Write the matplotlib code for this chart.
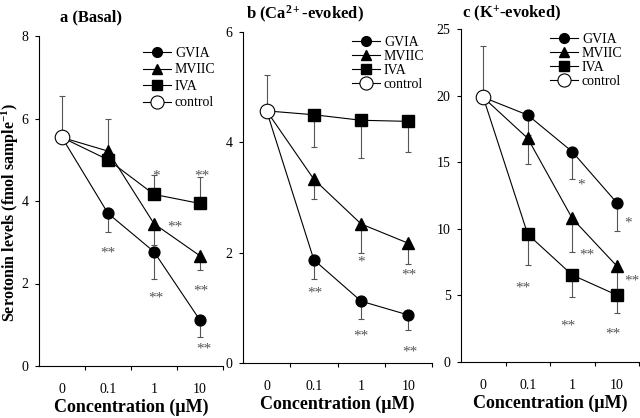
import matplotlib
matplotlib.use("Agg")
import matplotlib.pyplot as plt
import numpy as np

plt.rcParams['font.family'] = ['Liberation Serif', 'DejaVu Serif']
plt.rcParams['mathtext.fontset'] = 'custom'
plt.rcParams['mathtext.rm'] = 'Liberation Serif'
plt.rcParams['mathtext.bf'] = 'Liberation Serif:bold'
plt.rcParams['mathtext.it'] = 'Liberation Serif:italic'

conc_labels = ['0', '0.1', '1', '10']
series_names = ['GVIA', 'MVIIC', 'IVA']

# Panel a (Basal)
a_control = 5.54
a_control_up = 1.00
a_gvia = [3.70, 2.77, 1.11]
a_gvia_up = [0, 0, 0]
a_gvia_dn = [0.45, 0.65, 0.40]
a_mviic = [5.21, 3.45, 2.67]
a_mviic_up = [0.79, 0, 0]
a_mviic_dn = [0, 0.52, 0.35]
a_iva = [5.00, 4.16, 3.94]
a_iva_up = [0, 0.46, 0.63]
a_iva_dn = [0, 0, 0]
a_stars = ['**', '**', '*', '**', '**', '**', '**']
a_star_x = [1.0, 2.45, 2.05, 3.03, 2.05, 3.02, 3.08]
a_star_y = [2.83, 3.46, 4.70, 4.70, 1.76, 1.91, 0.51]

# Panel b (Ca2+-evoked)
b_control = 4.57
b_control_up = 0.65
b_gvia = [1.87, 1.12, 0.87]
b_gvia_up = [0, 0, 0]
b_gvia_dn = [0.35, 0.32, 0.27]
b_mviic = [3.33, 2.52, 2.17]
b_mviic_up = [0, 0, 0]
b_mviic_dn = [0.36, 0.52, 0.38]
b_iva = [4.50, 4.40, 4.38]
b_iva_up = [0, 0, 0]
b_iva_dn = [0.59, 0.68, 0.55]
b_stars = ['*', '**', '**', '**', '**']
b_star_x = [2.0, 3.02, 1.02, 2.0, 3.03]
b_star_y = [1.91, 1.67, 1.34, 0.57, 0.28]

# Panel c (K+-evoked)
c_control = 19.87
c_control_up = 3.85
c_gvia = [18.54, 15.79, 11.96]
c_gvia_up = [0, 0, 0]
c_gvia_dn = [1.5, 2.08, 2.13]
c_mviic = [16.79, 10.78, 7.21]
c_mviic_up = [0, 0, 0]
c_mviic_dn = [1.95, 2.5, 2.0]
c_iva = [9.59, 6.53, 5.03]
c_iva_up = [0, 0, 0]
c_iva_dn = [2.31, 1.67, 1.38]
c_stars = ['*', '*', '**', '**', '**', '**', '**']
c_star_x = [2.2, 3.26, 2.32, 3.35, 0.90, 1.91, 2.92]
c_star_y = [13.6, 10.74, 8.36, 6.41, 5.9, 3.03, 2.4]

panels = [
    dict(title=r'a (Basal)', control=a_control, control_up=a_control_up,
         series=[(a_gvia, a_gvia_up, a_gvia_dn), (a_mviic, a_mviic_up, a_mviic_dn), (a_iva, a_iva_up, a_iva_dn)],
         stars=(a_stars, a_star_x, a_star_y), yticks=[0, 2, 4, 6, 8],
         rect=[39/640, 1-366/418, 184/640, 330/418], title_xy=(60/640, 1-17/418),
         leg=(143/640, 1-47/418), labsp=0.25),
    dict(title=r'b (Ca$^{\mathbf{2+}}$-evoked)', control=b_control, control_up=b_control_up,
         series=[(b_gvia, b_gvia_up, b_gvia_dn), (b_mviic, b_mviic_up, b_mviic_dn), (b_iva, b_iva_up, b_iva_dn)],
         stars=(b_stars, b_star_x, b_star_y), yticks=[0, 2, 4, 6],
         rect=[243/640, 1-363/418, 189/640, 331/418], title_xy=(246/640, 1-14/418),
         leg=(352/640, 1-36/418), labsp=0.08),
    dict(title=r'c (K$^{\mathbf{+}}$-evoked)', control=c_control, control_up=c_control_up,
         series=[(c_gvia, c_gvia_up, c_gvia_dn), (c_mviic, c_mviic_up, c_mviic_dn), (c_iva, c_iva_up, c_iva_dn)],
         stars=(c_stars, c_star_x, c_star_y), yticks=[0, 5, 10, 15, 20, 25],
         rect=[461/640, 1-362/418, 178/640, 333/418], title_xy=(462/640, 1-13/418),
         leg=(550/640, 1-33/418), labsp=0.08),
]

markers = ['o', '^', 's']
msizes = [7.8, 8.5, 8.0]

fig = plt.figure(figsize=(6.4, 4.18), dpi=100)
errc = '#555555'
for p in panels:
    ax = fig.add_axes(p['rect'])
    x = np.arange(4)
    for (vals, up, dn), name, mk, ms in zip(p['series'], series_names, markers, msizes):
        yv = [p['control']] + list(vals)
        ax.errorbar(x[1:], vals, yerr=[dn, up], fmt='none', ecolor=errc,
                    elinewidth=0.8, capsize=2.2, capthick=0.8, zorder=2, clip_on=False)
        ax.plot(x, yv, color='black', lw=0.8, marker=mk, markersize=ms,
                markerfacecolor='black', markeredgecolor='black', markevery=[1, 2, 3],
                label=name, zorder=3, clip_on=False)
    ax.errorbar([0], [p['control']], yerr=[[0], [p['control_up']]], fmt='none', ecolor=errc,
                elinewidth=0.8, capsize=2.2, capthick=0.8, zorder=2, clip_on=False)
    ax.plot([0], [p['control']], color='black', lw=0.8, marker='o', markersize=10.5,
            markerfacecolor='white', markeredgecolor='black', markeredgewidth=0.8,
            label='control', zorder=4, clip_on=False)
    for s, sx, sy in zip(*p['stars']):
        ax.annotate(s, (sx, sy), xytext=(0, -3), textcoords='offset points',
                    fontsize=11, color='#555555', ha='center', va='center', zorder=5)

    ax.set_xlim(-0.5, 3.5)
    ax.set_ylim(p['yticks'][0], p['yticks'][-1])
    ax.set_yticks(p['yticks'])
    ax.set_xticks([0.5, 1.5, 2.5, 3.5])
    ax.set_xticklabels([])
    ax.set_xticks(x, minor=True)
    ax.set_xticklabels(conc_labels, minor=True)
    ax.tick_params(axis='x', which='major', direction='out', length=3, width=0.8)
    ax.tick_params(axis='x', which='minor', length=0, pad=12, labelsize=10)
    ax.tick_params(axis='y', direction='out', length=3, width=0.8, pad=4.5, labelsize=10)
    for sp in ['top', 'right']:
        ax.spines[sp].set_visible(False)
    for sp in ['left', 'bottom']:
        ax.spines[sp].set_linewidth(0.8)
    ax.set_xlabel('Concentration (μM)', fontsize=13, fontweight='bold', labelpad=2)
    fig.text(p['title_xy'][0], p['title_xy'][1], p['title'], fontsize=12,
             fontweight='bold', ha='left', va='center')
    leg = ax.legend(loc='upper left', bbox_to_anchor=p['leg'], bbox_transform=fig.transFigure,
                    frameon=False, fontsize=10, handlelength=2.0, handletextpad=0.3,
                    borderpad=0, borderaxespad=0, labelspacing=p['labsp'], markerscale=0.9)

fig.text(10/640, 1-212/418, 'Serotonin levels (fmol sample$^{\\mathbf{-1}}$)', rotation=90,
         fontsize=11.5, fontweight='bold', ha='center', va='center')

fig.savefig('out.png', dpi=100)
